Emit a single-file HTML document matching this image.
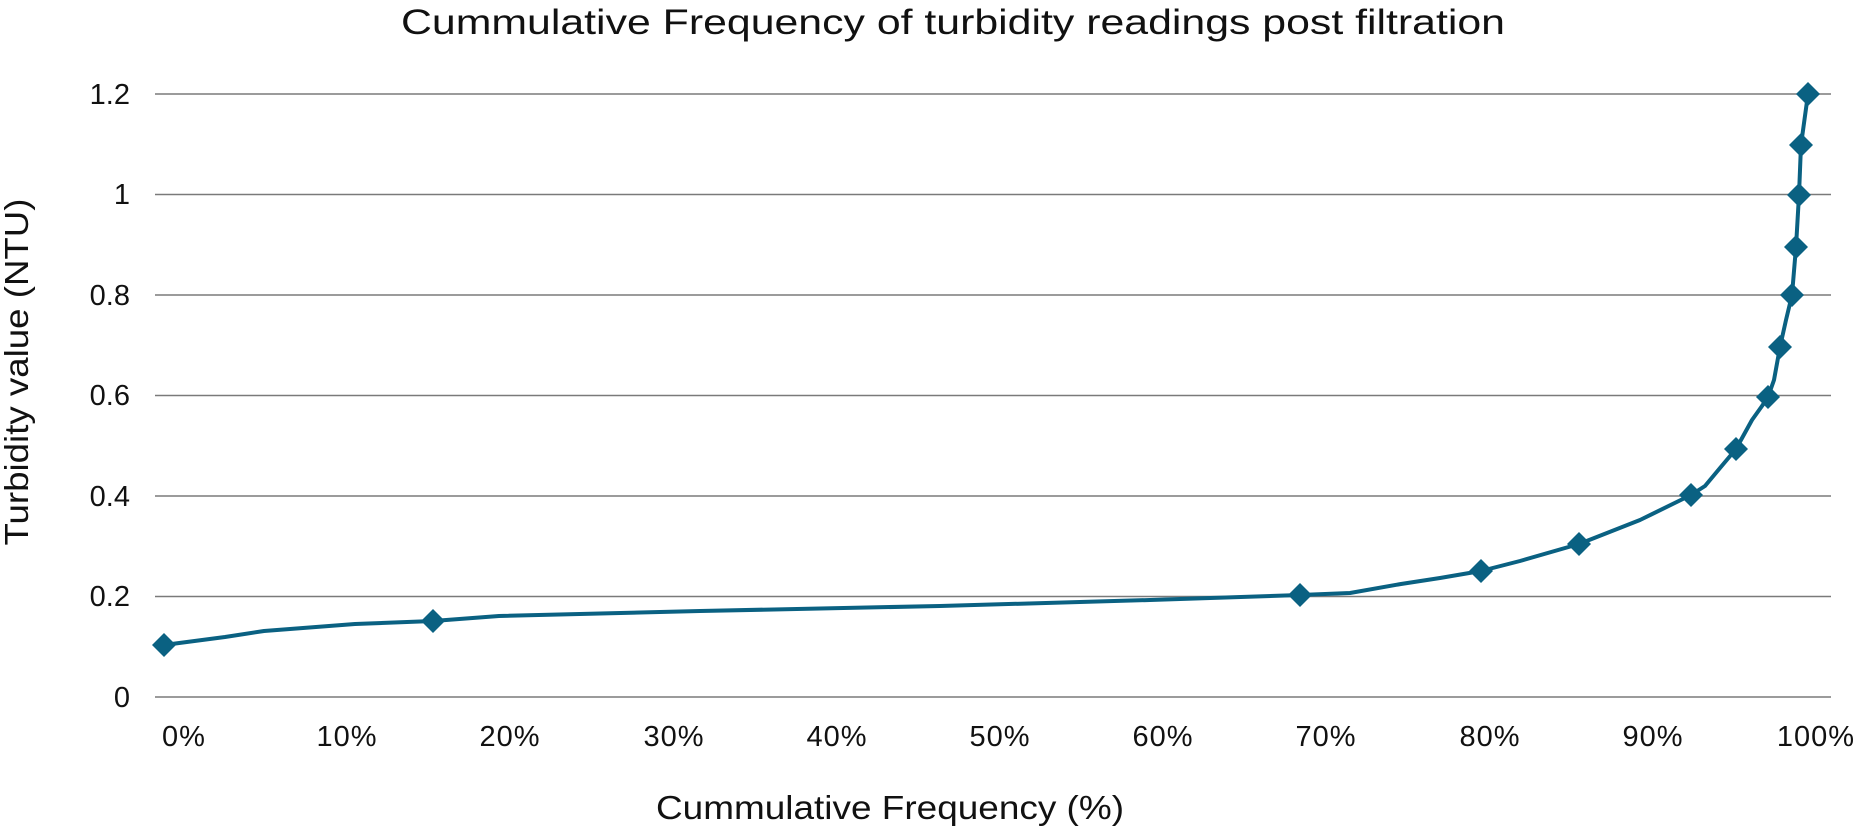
<!DOCTYPE html>
<html><head><meta charset="utf-8"><style>
body{margin:0;background:#fff}
svg text{font-family:"Liberation Sans",sans-serif;fill:#111}
</style></head><body>
<svg width="1861" height="827" viewBox="0 0 1861 827" xmlns="http://www.w3.org/2000/svg">
<text x="953" y="34" font-size="35" text-anchor="middle" textLength="1104" lengthAdjust="spacingAndGlyphs">Cummulative Frequency of turbidity readings post filtration</text>
<g stroke="#7a7a7a" stroke-width="1.5">
<line x1="155" x2="1831" y1="94" y2="94"/>
<line x1="155" x2="1831" y1="194.5" y2="194.5"/>
<line x1="155" x2="1831" y1="295" y2="295"/>
<line x1="155" x2="1831" y1="395.5" y2="395.5"/>
<line x1="155" x2="1831" y1="496" y2="496"/>
<line x1="155" x2="1831" y1="596.5" y2="596.5"/>
<line x1="155" x2="1831" y1="697" y2="697"/>
</g>
<g font-size="29" text-anchor="end">
<text x="130" y="104">1.2</text>
<text x="130" y="204">1</text>
<text x="130" y="305">0.8</text>
<text x="130" y="405">0.6</text>
<text x="130" y="506">0.4</text>
<text x="130" y="606">0.2</text>
<text x="130" y="707">0</text>
</g>
<g font-size="29" text-anchor="middle" letter-spacing="1">
<text x="184" y="746">0%</text>
<text x="347" y="746">10%</text>
<text x="510" y="746">20%</text>
<text x="674" y="746">30%</text>
<text x="837" y="746">40%</text>
<text x="1000" y="746">50%</text>
<text x="1163" y="746">60%</text>
<text x="1326" y="746">70%</text>
<text x="1490" y="746">80%</text>
<text x="1653" y="746">90%</text>
<text x="1816" y="746">100%</text>
</g>
<text x="890" y="819" font-size="33" text-anchor="middle" textLength="468" lengthAdjust="spacingAndGlyphs">Cummulative Frequency (%)</text>
<text transform="translate(28,372) rotate(-90)" font-size="33" text-anchor="middle" textLength="347" lengthAdjust="spacingAndGlyphs">Turbidity value (NTU)</text>
<path d="M164,645 L225,637 L264,631 L355,624 L433,621 L499,616 L700,611 L940,606 L1150,600 L1300,595 L1350,593 L1401,584 L1440,578 L1481,571 L1520,561 L1579,544 L1640,520 L1691,495 L1705,486 L1720,468 L1736,449 L1752,420 L1762,406 L1768,397 L1774,380 L1780,347 L1786,320 L1792,295 L1796,247 L1799,195 L1801,145 L1808,94" fill="none" stroke="#0a6182" stroke-width="4" stroke-linejoin="round"/>
<g fill="#0a6182">
<path d="M164,633 l12,12 l-12,12 l-12,-12z"/>
<path d="M433,609 l12,12 l-12,12 l-12,-12z"/>
<path d="M1300,583 l12,12 l-12,12 l-12,-12z"/>
<path d="M1481,559 l12,12 l-12,12 l-12,-12z"/>
<path d="M1579,532 l12,12 l-12,12 l-12,-12z"/>
<path d="M1691,483 l12,12 l-12,12 l-12,-12z"/>
<path d="M1736,437 l12,12 l-12,12 l-12,-12z"/>
<path d="M1768,385 l12,12 l-12,12 l-12,-12z"/>
<path d="M1780,335 l12,12 l-12,12 l-12,-12z"/>
<path d="M1792,283 l12,12 l-12,12 l-12,-12z"/>
<path d="M1796,235 l12,12 l-12,12 l-12,-12z"/>
<path d="M1799,183 l12,12 l-12,12 l-12,-12z"/>
<path d="M1801,133 l12,12 l-12,12 l-12,-12z"/>
<path d="M1808,82 l12,12 l-12,12 l-12,-12z"/>
</g>
</svg>
</body></html>
